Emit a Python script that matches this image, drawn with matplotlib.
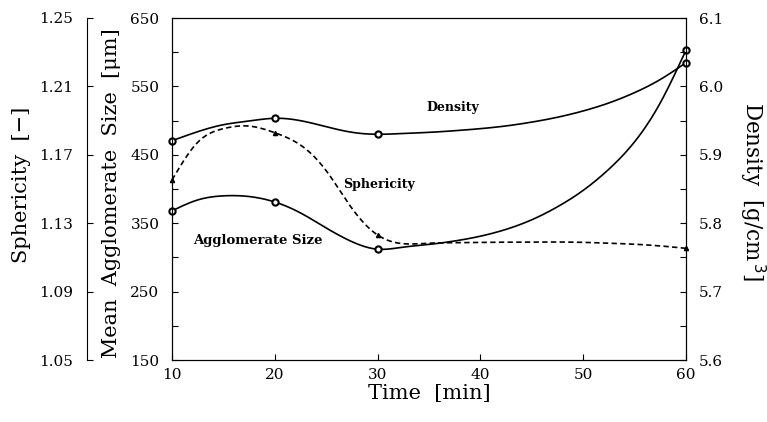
import numpy as np
import matplotlib.pyplot as plt

time = [10, 12.5, 15, 17.5, 20, 22.5, 25, 27.5, 30, 32.5, 35,
        37.5, 40, 42.5, 45, 47.5, 50, 52.5, 55, 57.5, 60]
agg_size = [368, 384, 390, 389, 381, 365, 343, 323, 312, 315, 319,
            324, 331, 341, 355, 374, 398, 429, 469, 526, 603]          # um
sphericity = [1.1553, 1.1773, 1.1853, 1.1868, 1.1829, 1.1757, 1.1607, 1.1387, 1.1231, 1.1180, 1.1183,
              1.1186, 1.1188, 1.1189, 1.1190, 1.1190, 1.1188, 1.1183, 1.1177, 1.1167, 1.1153]
density = [5.9206, 5.9338, 5.9440, 5.9494, 5.9534, 5.9499, 5.9411, 5.9329, 5.9300, 5.9312, 5.9328,
           5.9352, 5.9382, 5.9422, 5.9478, 5.9549, 5.9641, 5.9758, 5.9909, 6.0101, 6.0347]  # g/cm3
measured = [10, 20, 30, 60]


def natural_spline(t, v, tt):
    t = np.asarray(t, float)
    v = np.asarray(v, float)
    n = len(t)
    h = np.diff(t)
    A = np.zeros((n, n))
    b = np.zeros(n)
    A[0, 0] = A[-1, -1] = 1
    for i in range(1, n - 1):
        A[i, i - 1] = h[i - 1]
        A[i, i] = 2 * (h[i - 1] + h[i])
        A[i, i + 1] = h[i]
        b[i] = 6 * ((v[i + 1] - v[i]) / h[i] - (v[i] - v[i - 1]) / h[i - 1])
    M = np.linalg.solve(A, b)
    k = np.clip(np.searchsorted(t, tt) - 1, 0, n - 2)
    hk = h[k]
    a = t[k + 1] - tt
    c = tt - t[k]
    return (M[k] * a**3 / (6 * hk) + M[k + 1] * c**3 / (6 * hk)
            + (v[k] / hk - M[k] * hk / 6) * a + (v[k + 1] / hk - M[k + 1] * hk / 6) * c)


tt = np.linspace(10, 60, 500)
idx = [time.index(m) for m in measured]
pts = lambda arr: [arr[i] for i in idx]

plt.rcParams['font.family'] = 'DejaVu Serif'

fig = plt.figure(figsize=(7.67, 4.22), dpi=100)
ax = fig.add_axes([172 / 767, 1 - 360 / 422, 514 / 767, 342 / 422])

# agglomerate size on the inner left axis
ax.plot(tt, natural_spline(time, agg_size, tt), color='black', lw=1.2)
ax.plot(measured, pts(agg_size), 'o', ms=4.5, mfc='white', mec='black', mew=1.5, clip_on=False)
ax.set_xlim(10, 60)
ax.set_ylim(150, 650)
ax.set_xticks([10, 20, 30, 40, 50, 60])
ax.set_yticks(np.arange(150, 651, 50))
ax.set_yticklabels(['150', '', '250', '', '350', '', '450', '', '550', '', '650'])
ax.tick_params(direction='in', length=4, labelsize=11, width=0.8)
ax.tick_params(axis='y', pad=9)
ax.tick_params(axis='x', pad=6)
ax.set_xlabel('Time  [min]', fontsize=15, labelpad=1)
fig.text(112 / 767, 1 - 193 / 422, 'Mean  Agglomerate  Size  [μm]', fontsize=15,
         rotation=90, ha='center', va='center')

# density on the right axis
axd = ax.twinx()
axd.plot(tt, natural_spline(time, density, tt), color='black', lw=1.2)
axd.plot(measured, pts(density), 'o', ms=4.5, mfc='white', mec='black', mew=1.5, clip_on=False)
axd.set_ylim(5.6, 6.1)
axd.set_yticks(np.arange(5.6, 6.101, 0.05))
axd.set_yticklabels(['5.6', '', '5.7', '', '5.8', '', '5.9', '', '6.0', '', '6.1'])
axd.tick_params(direction='in', length=4, labelsize=11, width=0.8, pad=9)
fig.text(752 / 767, 1 - 192 / 422, 'Density  [g/cm$^{\\,3}$]', fontsize=15.5,
         rotation=270, ha='center', va='center')

# sphericity on the outer left axis
axs = ax.twinx()
for side in ['right', 'top', 'bottom']:
    axs.spines[side].set_visible(False)
axs.spines['left'].set_visible(True)
axs.spines['left'].set_position(('axes', (87 - 172) / 514))
axs.yaxis.set_ticks_position('left')
axs.plot(tt, natural_spline(time, sphericity, tt), color='black', lw=1.2, ls=(0, (3.2, 2)))
axs.plot(measured, pts(sphericity), '^', ms=3, color='black', clip_on=False)
axs.set_ylim(1.05, 1.25)
axs.set_yticks([1.05, 1.09, 1.13, 1.17, 1.21, 1.25])
axs.set_yticklabels(['1.05', '1.09', '1.13', '1.17', '1.21', '1.25'])
axs.tick_params(direction='in', length=4, labelsize=11, width=0.8, pad=10)
fig.text(22 / 767, 1 - 185 / 422, 'Sphericity  [−]', fontsize=15,
         rotation=90, ha='center', va='center')

# curve labels
fig.text(453 / 767, 1 - 108 / 422, 'Density', fontsize=9, fontweight='bold',
         ha='center', va='center')
fig.text(379 / 767, 1 - 185 / 422, 'Sphericity', fontsize=9, fontweight='bold',
         ha='center', va='center')
fig.text(258 / 767, 1 - 241 / 422, 'Agglomerate Size', fontsize=9.5, fontweight='bold',
         ha='center', va='center')

fig.savefig('out.png', dpi=100)
